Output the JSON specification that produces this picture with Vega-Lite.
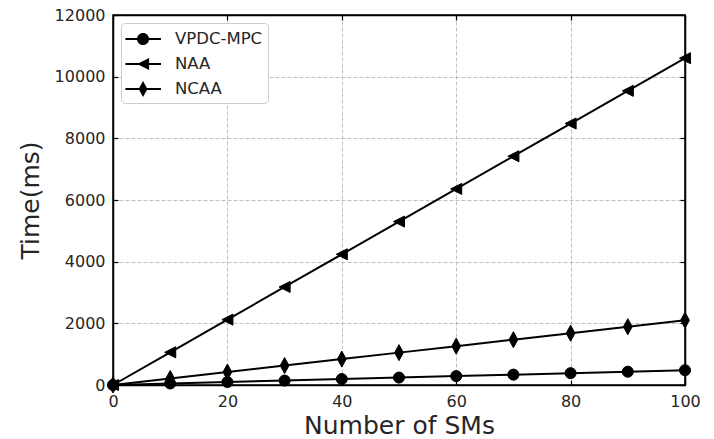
{
  "$schema": "https://vega.github.io/schema/vega-lite/v6.json",
  "width": 572,
  "height": 370,
  "autosize": "none",
  "padding": {"left": 113, "top": 15, "right": 29, "bottom": 54},
  "background": "white",
  "config": {
    "font": "DejaVu Sans",
    "view": {"stroke": "black", "strokeWidth": 1.5},
    "axis": {
      "domainColor": "black",
      "domainWidth": 1.5,
      "tickColor": "black",
      "tickSize": -5,
      "tickWidth": 1.2,
      "labelFlush": false,
      "labelOverlap": false,
      "labelFont": "DejaVu Sans",
      "labelFontSize": 16,
      "labelColor": "#262626",
      "titleFont": "DejaVu Sans",
      "titleFontSize": 25,
      "titleFontWeight": "normal",
      "titleColor": "#262626",
      "gridColor": "#b0b0b0",
      "gridDash": [4, 2],
      "gridWidth": 0.8
    }
  },
  "data": {
    "values": [
      {"sms": 0, "series": "VPDC-MPC", "time": 0},
      {"sms": 10, "series": "VPDC-MPC", "time": 48},
      {"sms": 20, "series": "VPDC-MPC", "time": 96},
      {"sms": 30, "series": "VPDC-MPC", "time": 144},
      {"sms": 40, "series": "VPDC-MPC", "time": 192},
      {"sms": 50, "series": "VPDC-MPC", "time": 240},
      {"sms": 60, "series": "VPDC-MPC", "time": 288},
      {"sms": 70, "series": "VPDC-MPC", "time": 336},
      {"sms": 80, "series": "VPDC-MPC", "time": 384},
      {"sms": 90, "series": "VPDC-MPC", "time": 432},
      {"sms": 100, "series": "VPDC-MPC", "time": 480},
      {"sms": 0, "series": "NAA", "time": 0},
      {"sms": 10, "series": "NAA", "time": 1060},
      {"sms": 20, "series": "NAA", "time": 2120},
      {"sms": 30, "series": "NAA", "time": 3180},
      {"sms": 40, "series": "NAA", "time": 4240},
      {"sms": 50, "series": "NAA", "time": 5300},
      {"sms": 60, "series": "NAA", "time": 6360},
      {"sms": 70, "series": "NAA", "time": 7420},
      {"sms": 80, "series": "NAA", "time": 8480},
      {"sms": 90, "series": "NAA", "time": 9540},
      {"sms": 100, "series": "NAA", "time": 10600},
      {"sms": 0, "series": "NCAA", "time": 0},
      {"sms": 10, "series": "NCAA", "time": 210},
      {"sms": 20, "series": "NCAA", "time": 420},
      {"sms": 30, "series": "NCAA", "time": 630},
      {"sms": 40, "series": "NCAA", "time": 840},
      {"sms": 50, "series": "NCAA", "time": 1050},
      {"sms": 60, "series": "NCAA", "time": 1260},
      {"sms": 70, "series": "NCAA", "time": 1470},
      {"sms": 80, "series": "NCAA", "time": 1680},
      {"sms": 90, "series": "NCAA", "time": 1890},
      {"sms": 100, "series": "NCAA", "time": 2100}
    ]
  },
  "layer": [
    {
      "mark": {"type": "line", "color": "black", "strokeWidth": 2},
      "encoding": {
        "x": {
          "field": "sms", "type": "quantitative",
          "scale": {"domain": [0, 100], "nice": false, "zero": false},
          "axis": {"title": "Number of SMs", "values": [0, 20, 40, 60, 80, 100], "format": "d", "labelPadding": 13, "titlePadding": 4, "grid": true}
        },
        "y": {
          "field": "time", "type": "quantitative",
          "scale": {"domain": [0, 12000], "nice": false},
          "axis": {"title": "Time(ms)", "values": [0, 2000, 4000, 6000, 8000, 10000, 12000], "format": "d", "labelPadding": 13, "titlePadding": 11, "grid": true}
        },
        "detail": {"field": "series"}
      }
    },
    {
      "mark": {"type": "point", "filled": true, "fill": "black", "stroke": "black", "strokeWidth": 1, "opacity": 1, "size": 0},
      "encoding": {
        "x": {"field": "sms", "type": "quantitative", "axis": null},
        "y": {"field": "time", "type": "quantitative", "axis": null},
        "shape": {
          "field": "series", "type": "nominal",
          "scale": {
            "domain": ["VPDC-MPC", "NAA", "NCAA"],
            "range": [
              "M-1.05,-0.09L2.18,-0.09L2.18,0.09L-1.05,0.09ZM1.1,0A0.55,0.55,0,1,1,0,0A0.55,0.55,0,1,1,1.1,0Z",
              "M-1.05,-0.09L2.18,-0.09L2.18,0.09L-1.05,0.09ZM0,0L1.1,-0.55L1.1,0.55Z",
              "M-1.05,-0.09L2.18,-0.09L2.18,0.09L-1.05,0.09ZM0.55,-0.73L0.95,0L0.55,0.73L0.15,0Z"
            ]
          },
          "legend": {
            "title": null,
            "orient": "top-left",
            "offset": 8,
            "padding": 5,
            "rowPadding": 5,
            "symbolSize": 484,
            "symbolOpacity": 1,
            "symbolFillColor": "black",
            "symbolStrokeColor": "black",
            "symbolStrokeWidth": 0,
            "labelOffset": 27,
            "labelFont": "DejaVu Sans",
            "labelFontSize": 16.5,
            "labelColor": "#262626",
            "strokeColor": "#cccccc",
            "fillColor": "white",
            "cornerRadius": 4
          }
        }
      }
    },
    {
      "mark": {"type": "point", "filled": true, "fill": "black", "stroke": "black", "strokeWidth": 1, "opacity": 1, "size": 256},
      "encoding": {
        "x": {"field": "sms", "type": "quantitative", "axis": null},
        "y": {"field": "time", "type": "quantitative", "axis": null},
        "shape": {
          "field": "series", "type": "nominal",
          "scale": {
            "domain": ["VPDC-MPC", "NAA", "NCAA"],
            "range": [
              "M0.69,0A0.69,0.69,0,1,1,-0.69,0A0.69,0.69,0,1,1,0.69,0Z",
              "M-0.69,0L0.69,-0.69L0.69,0.69Z",
              "M0,-1L0.55,0L0,1L-0.55,0Z"
            ]
          },
          "legend": null
        }
      }
    },
    {
      "mark": {"type": "point", "opacity": 0},
      "encoding": {
        "x": {"field": "sms", "type": "quantitative", "axis": {"orient": "top", "title": null, "labels": false, "grid": false, "values": [0, 20, 40, 60, 80, 100]}},
        "y": {"field": "time", "type": "quantitative", "axis": {"orient": "right", "title": null, "labels": false, "grid": false, "values": [0, 2000, 4000, 6000, 8000, 10000, 12000]}}
      }
    }
  ],
  "resolve": {"scale": {"shape": "independent"}, "axis": {"x": "independent", "y": "independent"}}
}
